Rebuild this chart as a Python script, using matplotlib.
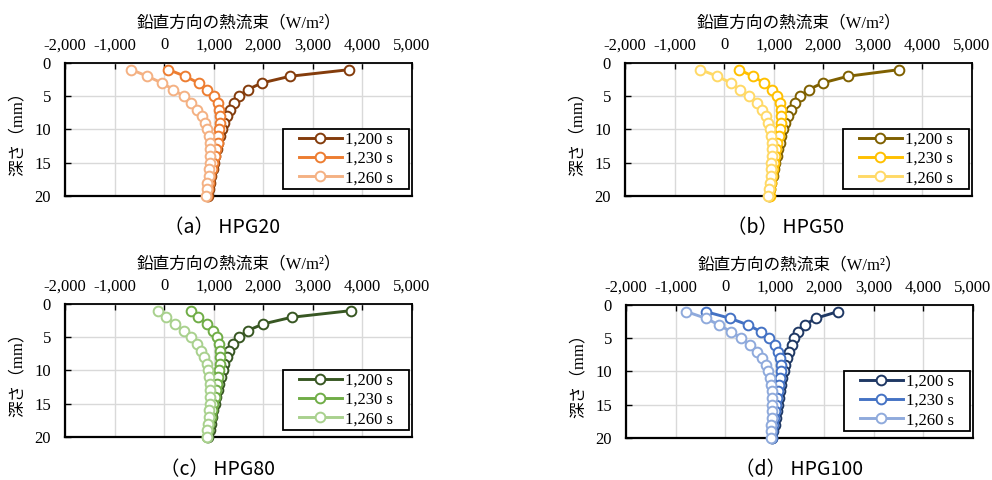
import numpy as np
import matplotlib.pyplot as plt
from matplotlib.patches import Rectangle

plt.rcParams['font.family'] = ['Liberation Serif', 'Noto Sans CJK JP']

# 深さ (mm)
depth = np.arange(1, 21)
times = ['1,200 s', '1,230 s', '1,260 s']

# (a) HPG20
hpg20_1200 = [3737, 2539, 1973, 1684, 1515, 1414, 1333, 1266, 1212, 1165,
              1125, 1091, 1060, 1030, 1005, 980, 955, 930, 910, 885]
hpg20_1230 = [88, 424, 694, 875, 1010, 1077, 1111, 1131, 1131, 1111,
              1091, 1077, 1044, 1017, 990, 963, 929, 909, 889, 862]
hpg20_1260 = [-660, -337, -47, 189, 391, 539, 673, 761, 822, 875,
              909, 923, 929, 929, 923, 909, 896, 875, 862, 842]

# (b) HPG50
hpg50_1200 = [3532, 2495, 1987, 1706, 1538, 1425, 1351, 1284, 1237, 1190,
              1157, 1124, 1090, 1057, 1030, 1005, 980, 955, 930, 905]
hpg50_1230 = [301, 582, 803, 970, 1070, 1124, 1157, 1157, 1150, 1137,
              1104, 1070, 1043, 1020, 1000, 980, 960, 945, 935, 923]
hpg50_1260 = [-482, -134, 134, 321, 502, 656, 756, 836, 890, 923,
              950, 957, 957, 957, 955, 950, 943, 935, 915, 890]

# (c) HPG80
hpg80_1200 = [3771, 2572, 2000, 1684, 1515, 1394, 1313, 1259, 1212, 1178,
              1145, 1111, 1078, 1050, 1020, 995, 970, 945, 920, 895]
hpg80_1230 = [539, 687, 855, 990, 1064, 1111, 1131, 1131, 1118, 1111,
              1091, 1064, 1044, 1017, 990, 963, 936, 909, 889, 875]
hpg80_1260 = [-114, 47, 222, 391, 539, 660, 741, 808, 855, 889,
              909, 923, 929, 929, 923, 909, 896, 882, 869, 855]

# (d) HPG100
hpg100_1200 = [2275, 1826, 1604, 1477, 1389, 1342, 1289, 1242, 1208, 1188,
               1154, 1134, 1107, 1087, 1067, 1047, 1027, 1000, 973, 953]
hpg100_1230 = [-389, 101, 463, 718, 886, 1000, 1074, 1107, 1121, 1121,
               1107, 1087, 1067, 1047, 1027, 1007, 987, 967, 950, 940]
hpg100_1260 = [-779, -389, -121, 114, 329, 503, 638, 738, 819, 872,
               906, 933, 940, 953, 953, 953, 940, 933, 926, 919]

panels = [
    ('（a） HPG20', [hpg20_1200, hpg20_1230, hpg20_1260], ['#843C0C', '#ED7D31', '#F4B183']),
    ('（b） HPG50', [hpg50_1200, hpg50_1230, hpg50_1260], ['#7F6000', '#FFC000', '#FFD966']),
    ('（c） HPG80', [hpg80_1200, hpg80_1230, hpg80_1260], ['#385723', '#70AD47', '#A9D18E']),
    ('（d） HPG100', [hpg100_1200, hpg100_1230, hpg100_1260], ['#1F3864', '#4472C4', '#8FAADC']),
]

positions = [
    [0.0655, 0.5917, 0.3498, 0.2771],
    [0.630, 0.5917, 0.3498, 0.2771],
    [0.0655, 0.0896, 0.3498, 0.2771],
    [0.631, 0.0875, 0.3498, 0.2771],
]
caption_xy = [(0.224, 0.525), (0.792, 0.525), (0.219, 0.021), (0.806, 0.021)]

fig = plt.figure(figsize=(9.92, 4.8), dpi=100)

for (cap, series, cols), pos, cxy in zip(panels, positions, caption_xy):
    ax = fig.add_axes(pos)
    for vals, c, lab in zip(series, cols, times):
        ax.plot(vals, depth, color=c, lw=2.1, marker='o', ms=7,
                mfc='white', mec=c, mew=1.4, label=lab, clip_on=False, zorder=3)
    ax.set_xlim(-2000, 5000)
    ax.set_ylim(20, 0)
    ax.set_xticks(np.arange(-2000, 5001, 1000))
    ax.set_yticks([0, 5, 10, 15, 20])
    ax.xaxis.set_major_formatter(plt.FuncFormatter(lambda v, p: f'{int(v):,}'))
    ax.xaxis.tick_top()
    ax.xaxis.set_label_position('top')
    ax.tick_params(axis='x', direction='in', length=4, width=1, pad=7, labelsize=12)
    ax.tick_params(axis='y', direction='in', length=4, width=1, pad=10, labelsize=12)
    ax.grid(True, color='#D9D9D9', lw=1)
    ax.set_axisbelow(True)
    for s in ax.spines.values():
        s.set_color('black')
        s.set_linewidth(1.3)
    ax.spines['bottom'].set_linewidth(1.6)
    ax.spines['left'].set_linewidth(1.6)
    ax.set_xlabel('鉛直方向の熱流束（W/m²）', fontsize=12, labelpad=7)
    ax.set_ylabel('深さ（mm）', fontsize=12, labelpad=6)

    # legend box (wider horizontal padding than the legend's own frame)
    ax.add_patch(Rectangle((0.628, 0.053), 0.363, 0.451, transform=ax.transAxes,
                           facecolor='white', edgecolor='black', lw=1.3, zorder=4))
    leg = ax.legend(loc='center', bbox_to_anchor=(0.81, 0.279), fontsize=12,
                    frameon=False, handlelength=2.6, handletextpad=0.2,
                    labelspacing=0.2, borderpad=0.1, borderaxespad=0)
    leg.set_zorder(5)
    fig.text(cxy[0], cxy[1], cap, fontsize=14, ha='center', va='center',
             family=['Noto Sans CJK JP', 'DejaVu Sans'])

fig.savefig('out.png', dpi=100)
